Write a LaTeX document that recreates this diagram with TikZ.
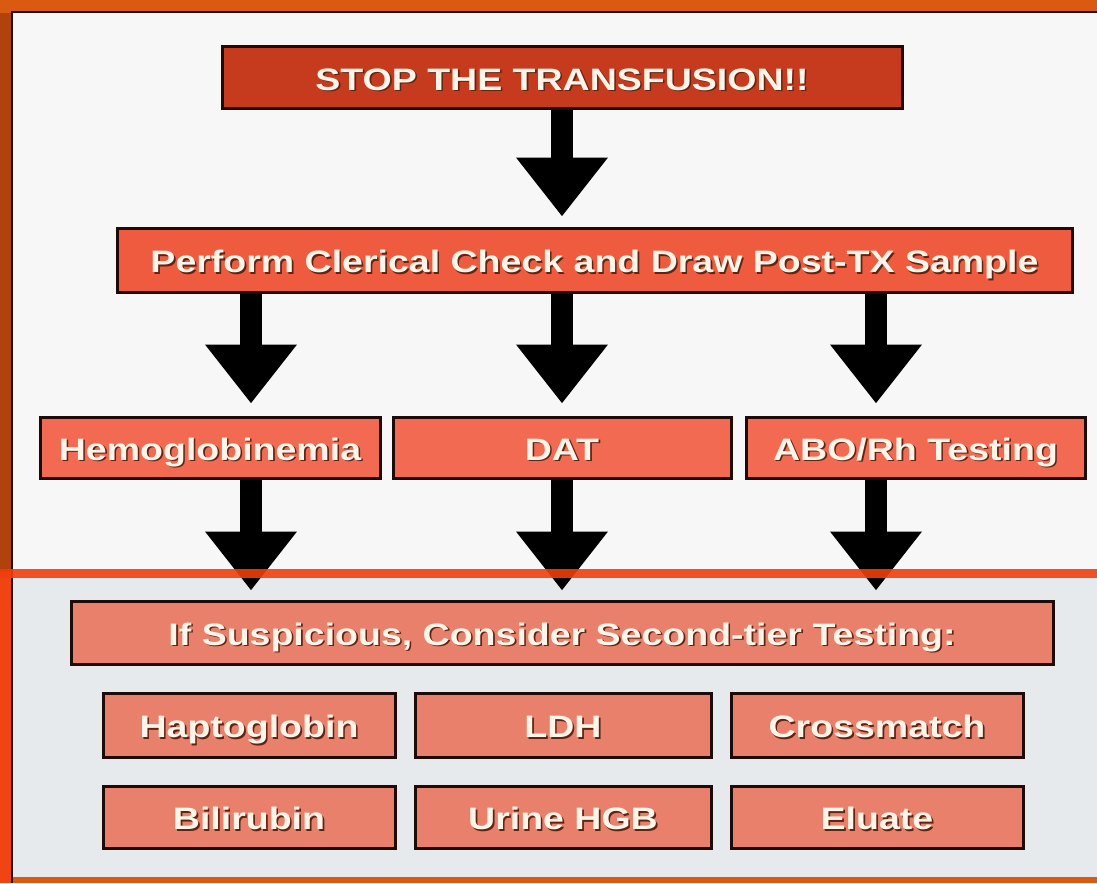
\documentclass[tikz,border=0pt]{standalone}
\usepackage{fontspec}
\setmainfont{Liberation Sans}[FakeStretch=1.21]
\usetikzlibrary{arrows.meta}
\definecolor{frameor}{HTML}{D95A10}
\definecolor{framedark}{HTML}{B0420C}
\definecolor{framebright}{HTML}{F04512}
\definecolor{panelwhite}{HTML}{F7F7F7}
\definecolor{panelgray}{HTML}{E6EAEC}
\definecolor{divider}{HTML}{F03E0C}
\definecolor{stopfill}{HTML}{C63A1E}
\definecolor{perffill}{HTML}{EF5B3E}
\definecolor{midfill}{HTML}{F26A52}
\definecolor{lowfill}{HTML}{E8806C}
\definecolor{txtwhite}{HTML}{FFF4E8}
\definecolor{txtshadow}{HTML}{5E2414}
\definecolor{boxline}{HTML}{1E0A06}
\newcommand{\shtxt}[1]{\makebox[0pt][l]{\hspace{1.6pt}\raisebox{-1.6pt}{\textcolor{txtshadow}{#1}}}#1}
\tikzset{
  flowbox/.style={draw=boxline, line width=3pt, rectangle, inner sep=0pt,
    text height=25pt, text depth=0pt,
    text=txtwhite, font=\fontsize{31}{36}\selectfont\bfseries},
  bigarrow/.style={line width=22pt, black, -{Triangle[length=59pt,width=88pt]}}
}
\begin{document}
\begin{tikzpicture}[x=1pt,y=-1pt]
\useasboundingbox (0,0) rectangle (1097,883);
% frame and panels
\fill[frameor] (0,0) rectangle (1097,883);
\fill[framedark] (0,13) rectangle (12,572);
\fill[framebright] (0,572) rectangle (12,883);
\fill[panelwhite] (13,13) rectangle (1097,877);
\fill[panelgray] (13,578) rectangle (1097,877);
\draw[boxline, line width=2pt] (12,883) -- (12,12) -- (1097,12);
% nodes
\node[flowbox, fill=stopfill, minimum width=680pt, minimum height=61pt] (stop) at (562,77.5) {\shtxt{STOP THE TRANSFUSION!!}};
\node[flowbox, fill=perffill, minimum width=955pt, minimum height=64pt] (perf) at (594.5,260) {\shtxt{Perform Clerical Check and Draw Post-TX Sample}};
\node[flowbox, fill=midfill, minimum width=340pt, minimum height=61pt] (hem) at (210,447.5) {\shtxt{Hemoglobinemia}};
\node[flowbox, fill=midfill, minimum width=338pt, minimum height=61pt] (dat) at (562,447.5) {\shtxt{DAT}};
\node[flowbox, fill=midfill, minimum width=339pt, minimum height=61pt] (abo) at (915.5,447.5) {\shtxt{ABO/Rh Testing}};
\node[flowbox, fill=lowfill, minimum width=982pt, minimum height=63pt] (sus) at (562,632.5) {\shtxt{If Suspicious, Consider Second-tier Testing:}};
\node[flowbox, fill=lowfill, minimum width=292pt, minimum height=64pt] (hapto) at (249,725) {\shtxt{Haptoglobin}};
\node[flowbox, fill=lowfill, minimum width=296pt, minimum height=64pt] (ldh) at (563,725) {\shtxt{LDH}};
\node[flowbox, fill=lowfill, minimum width=292pt, minimum height=64pt] (cross) at (877,725) {\shtxt{Crossmatch}};
\node[flowbox, fill=lowfill, minimum width=292pt, minimum height=62pt] (bili) at (249,817) {\shtxt{Bilirubin}};
\node[flowbox, fill=lowfill, minimum width=296pt, minimum height=62pt] (urine) at (563,817) {\shtxt{Urine HGB}};
\node[flowbox, fill=lowfill, minimum width=292pt, minimum height=62pt] (elu) at (877,817) {\shtxt{Eluate}};
% arrow columns
\coordinate (c1) at (251,0);
\coordinate (c2) at (562,0);
\coordinate (c3) at (876,0);
% arrows
\draw[bigarrow, shorten >=10pt] (stop.south) -- (perf.north -| stop.south);
\draw[bigarrow, shorten >=12pt] (perf.south -| c1) -- (hem.north -| c1);
\draw[bigarrow, shorten >=12pt] (perf.south -| c2) -- (dat.north -| c2);
\draw[bigarrow, shorten >=12pt] (perf.south -| c3) -- (abo.north -| c3);
\draw[bigarrow, shorten >=9pt] (hem.south -| c1) -- (sus.north -| c1);
\draw[bigarrow, shorten >=9pt] (dat.south -| c2) -- (sus.north -| c2);
\draw[bigarrow, shorten >=9pt] (abo.south -| c3) -- (sus.north -| c3);
% divider line
\fill[divider, opacity=0.9] (0,569) rectangle (1097,578);
\end{tikzpicture}
\end{document}
